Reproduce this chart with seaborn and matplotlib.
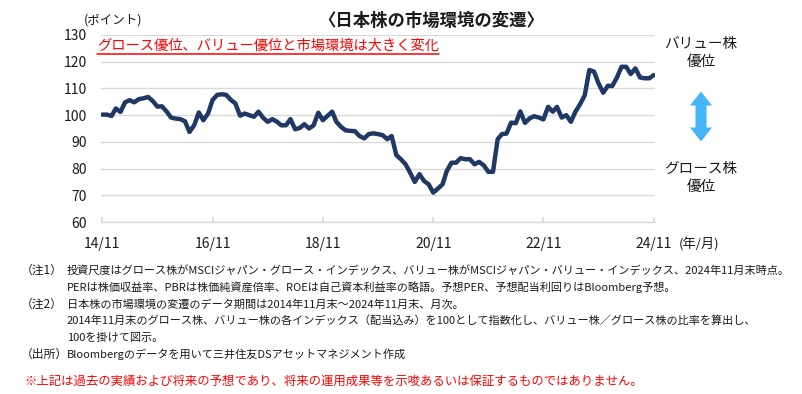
import pandas as pd
import matplotlib.pyplot as plt
import seaborn as sns
from matplotlib.patches import FancyArrow
from matplotlib.lines import Line2D

sns.set_theme(style='white')
plt.rcParams['font.family'] = ['Noto Sans CJK JP', 'DejaVu Sans']

# バリュー株／グロース株の比率（2014年11月末=100、月次）
months = pd.date_range('2014-11-30', periods=121, freq='ME')
ratio = [
    100.2, 100.2, 99.7, 102.5, 101.2, 104.8, 105.6, 104.8, 106.0, 106.3,
    106.8, 105.3, 103.2, 103.3, 101.3, 99.1, 98.7, 98.5, 97.7, 93.7,
    96.2, 101.0, 98.1, 100.6, 105.7, 107.6, 107.8, 107.6, 105.7, 104.4,
    99.8, 100.6, 100.0, 99.4, 101.3, 99.0, 97.5, 98.5, 97.5, 96.2,
    96.2, 98.5, 94.7, 95.2, 96.6, 95.0, 96.2, 100.9, 98.1, 99.7,
    101.3, 97.5, 95.6, 94.3, 94.1, 94.0, 92.2, 91.3, 92.9, 93.2,
    92.9, 92.5, 91.0, 92.2, 85.0, 83.5, 81.6, 78.5, 75.0, 77.9,
    75.4, 74.1, 71.0, 72.5, 74.1, 79.1, 82.2, 82.2, 83.9, 83.5,
    83.5, 81.6, 82.5, 81.2, 78.8, 78.8, 91.0, 92.9, 93.1, 97.2,
    97.0, 101.4, 97.1, 98.8, 99.6, 99.1, 98.4, 103.1, 101.3, 103.1,
    99.1, 100.0, 97.5, 101.3, 104.1, 107.5, 116.9, 116.3, 111.9, 108.4,
    111.0, 110.9, 114.1, 118.1, 118.1, 115.4, 117.5, 114.1, 113.8, 113.8,
    115.0,
]
tick_dates = pd.to_datetime(['2014-11-30', '2016-11-30', '2018-11-30',
                             '2020-11-30', '2022-11-30', '2024-11-30'])
tick_labels = ['14/11', '16/11', '18/11', '20/11', '22/11', '24/11']
y_ticks = [60, 70, 80, 90, 100, 110, 120, 130]

df = pd.DataFrame({'month': months, 'ratio': ratio})

W, H = 803, 394
fig = plt.figure(figsize=(W / 100, H / 100), dpi=100)
fig.patch.set_facecolor('white')

# メインのグラフ
ax = fig.add_axes([101 / W, 1 - 222 / H, (655 - 101) / W, (222 - 35) / H])
sns.lineplot(data=df, x='month', y='ratio', ax=ax, color='#1F3864', linewidth=3.2)
ax.set_xlim(months[0] - pd.Timedelta(days=8), months[-1] + pd.Timedelta(days=8))
ax.set_ylim(60, 130)
ax.set_yticks(y_ticks)
ax.set_xticks(tick_dates)
ax.set_xticklabels(tick_labels)
ax.set_xlabel('')
ax.set_ylabel('')
ax.grid(axis='y', color='#D9D9D9', linewidth=1)
for s in ['left', 'right', 'top']:
    ax.spines[s].set_visible(False)
ax.spines['bottom'].set_color('#D9D9D9')
ax.spines['bottom'].set_linewidth(1)
ax.tick_params(axis='x', direction='in', length=3.5, color='#D9D9D9',
               labelsize=10, pad=11, labelcolor='#1a1a1a', bottom=True)
ax.tick_params(axis='y', length=0, labelsize=10, pad=10, labelcolor='#1a1a1a')

# 文字・矢印（ピクセル座標）
ov = fig.add_axes([0, 0, 1, 1])
ov.set_xlim(0, W)
ov.set_ylim(H, 0)
ov.axis('off')

ov.text(431, 21, '〈日本株の市場環境の変遷〉', ha='center', va='center',
        fontsize=12.5, fontweight='bold', color='#1a1a1a')
ov.text(84, 20, '(ポイント)', ha='left', va='center', fontsize=9, color='#1a1a1a')
sub = ov.text(97, 46, 'グロース優位、バリュー優位と市場環境は大きく変化',
              ha='left', va='center', fontsize=10.3, color='#FF0000')
ov.text(679, 244, '(年/月)', ha='left', va='center', fontsize=9.5, color='#1a1a1a')

ov.text(701, 53, 'バリュー株\n優位', ha='center', va='center', fontsize=10.5,
        linespacing=1.35, color='#1a1a1a')
ov.text(701, 178, 'グロース株\n優位', ha='center', va='center', fontsize=10.5,
        linespacing=1.35, color='#1a1a1a')
ov.add_patch(FancyArrow(701, 117, 0, -25.5, width=11, head_width=22, head_length=14,
                        length_includes_head=True, color='#45B5F7', lw=0))
ov.add_patch(FancyArrow(701, 116, 0, 25.5, width=11, head_width=22, head_length=14,
                        length_includes_head=True, color='#45B5F7', lw=0))

# 注記
notes = [
    ('（注1）', '投資尺度はグロース株がMSCIジャパン・グロース・インデックス、バリュー株がMSCIジャパン・バリュー・インデックス、2024年11月末時点。', 270),
    ('', 'PERは株価収益率、PBRは株価純資産倍率、ROEは自己資本利益率の略語。予想PER、予想配当利回りはBloomberg予想。', 287),
    ('（注2）', '日本株の市場環境の変遷のデータ期間は2014年11月末～2024年11月末、月次。', 304),
    ('', '2014年11月末のグロース株、バリュー株の各インデックス（配当込み）を100として指数化し、バリュー株／グロース株の比率を算出し、', 321),
    ('', '100を掛けて図示。', 338),
    ('（出所）', 'Bloombergのデータを用いて三井住友DSアセットマネジメント作成', 354),
]
note_fs = 8.0
for label, body, y in notes:
    if label:
        ov.text(21, y, label, ha='left', va='center', fontsize=note_fs + 0.5, color='#1a1a1a')
    ov.text(67, y, body, ha='left', va='center', fontsize=note_fs, color='#1a1a1a')
ov.text(24, 381, '※上記は過去の実績および将来の予想であり、将来の運用成果等を示唆あるいは保証するものではありません。',
        ha='left', va='center', fontsize=8.9, color='#FF0000')

# 赤字の下線
fig.canvas.draw()
renderer = fig.canvas.get_renderer()
bb = sub.get_window_extent(renderer)
inv = ov.transData.inverted()
x0, _ = inv.transform((bb.x0, bb.y0))
x1, _ = inv.transform((bb.x1, bb.y0))
ov.add_line(Line2D([x0, x1], [54, 54], color='#FF0000', linewidth=1.1))

fig.savefig('out.png', dpi=100)
